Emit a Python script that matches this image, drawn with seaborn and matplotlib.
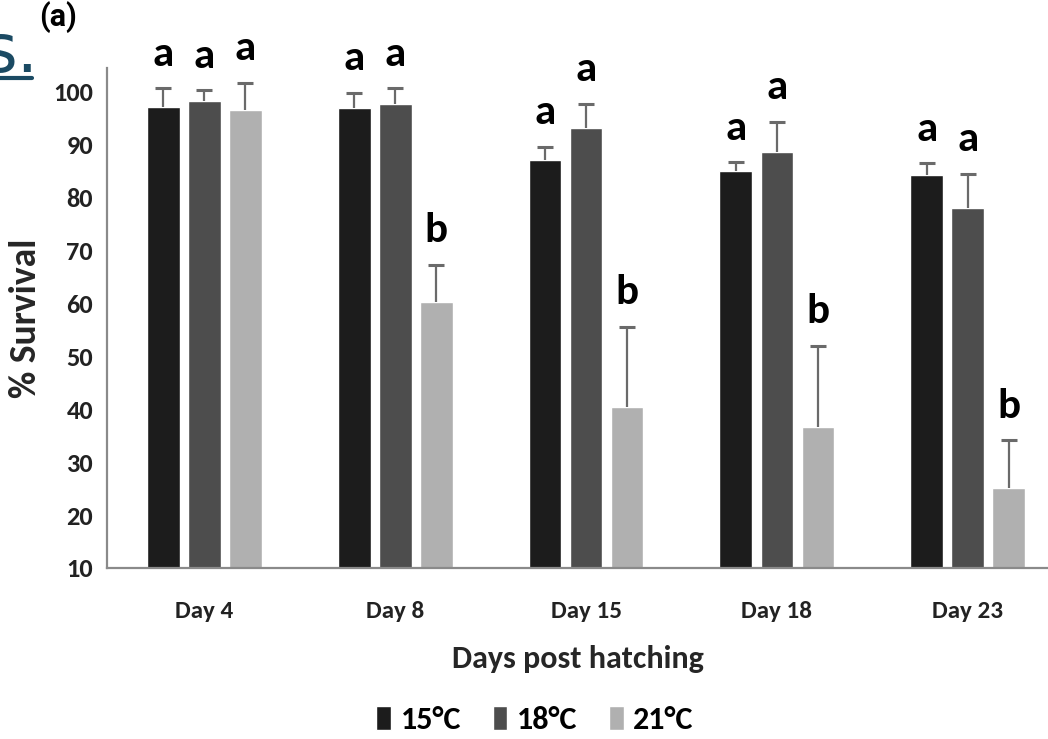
import numpy as np
import pandas as pd
import matplotlib
matplotlib.use("Agg")
import matplotlib.pyplot as plt
from matplotlib.lines import Line2D
import seaborn as sns

# Survival data
days = ["Day 4", "Day 8", "Day 15", "Day 18", "Day 23"]
temps = ["15°C", "18°C", "21°C"]
surv_15 = [97.0, 96.8, 87.1, 84.9, 84.3]
surv_18 = [98.3, 97.7, 93.2, 88.5, 78.0]
surv_21 = [96.6, 60.3, 40.5, 36.7, 25.1]
err_15 = [3.6, 3.0, 2.5, 1.7, 2.2]
err_18 = [2.0, 3.0, 4.5, 5.8, 6.5]
err_21 = [5.1, 7.0, 15.1, 15.3, 9.1]
letters_15 = ["a", "a", "a", "a", "a"]
letters_18 = ["a", "a", "a", "a", "a"]
letters_21 = ["a", "b", "b", "b", "b"]

colors = ["#1c1c1c", "#4d4d4d", "#b0b0b0"]

df = pd.DataFrame({
    "Day": days * 3,
    "Temp": [t for t in temps for _ in days],
    "Survival": surv_15 + surv_18 + surv_21,
})
errs = [err_15, err_18, err_21]
letters = [letters_15, letters_18, letters_21]

sns.set_style("white")
plt.rcParams["font.family"] = ["Carlito", "Open Sans", "DejaVu Sans"]
plt.rcParams["font.weight"] = "bold"
plt.rcParams["text.color"] = "black"

fig = plt.figure(figsize=(10.48, 7.39), dpi=100)
ax = fig.add_axes([0.102, 0.2314, 0.898, 0.677])

sns.barplot(data=df, x="Day", y="Survival", hue="Temp", order=days,
            hue_order=temps, palette=colors, width=0.645, gap=0.2,
            errorbar=None, saturation=1, ax=ax)

# upper-only error bars and significance letters
for cont, err, lets in zip(ax.containers, errs, letters):
    xs = [p.get_x() + p.get_width() / 2 for p in cont.patches]
    ys = [p.get_height() for p in cont.patches]
    _, caps, _ = ax.errorbar(xs, ys, yerr=[np.zeros(len(err)), err],
                             fmt="none", ecolor="#6a6a6a", elinewidth=1.6,
                             capsize=6, capthick=2.2)
    caps[0].set_visible(False)
    for x, y, e, l in zip(xs, ys, err, lets):
        ax.annotate(l, (x, y + e), xytext=(0, 11), textcoords="offset points",
                    ha="center", va="bottom", fontsize=31, fontweight="bold",
                    annotation_clip=False)

ax.set_ylim(10, 104.5)
ax.set_xlim(-0.51, 4.42)
ax.set_yticks(range(10, 101, 10))
ax.tick_params(axis="y", length=6, width=1.3, color="#888888",
               labelsize=19, pad=4, labelcolor="#222222")
ax.tick_params(axis="x", length=0, labelsize=18, pad=24, labelcolor="#222222")
for lab in ax.get_xticklabels() + ax.get_yticklabels():
    lab.set_fontweight("bold")
ax.set_ylabel("% Survival", fontsize=27, fontweight="bold", labelpad=8)
ax.set_xlabel("Days post hatching", fontsize=23, fontweight="bold",
              labelpad=16)
sns.despine(ax=ax)
for s in ["left", "bottom"]:
    ax.spines[s].set_color("#8a8a8a")
    ax.spines[s].set_linewidth(1.6)

sns.move_legend(ax, "upper center", bbox_to_anchor=(0.455, -0.218), ncol=3,
                title=None, frameon=False, fontsize=23, handlelength=0.45,
                handleheight=0.8, handletextpad=0.3, columnspacing=1.0)
for t in ax.get_legend().get_texts():
    t.set_fontweight("bold")

# cropped page remnants at top-left
fig.text(-0.017, 0.903, "s.", fontsize=48, color="#1b4a63",
         fontweight="normal", family="DejaVu Sans")
fig.add_artist(Line2D([0, 0.031], [0.894, 0.894], color="#1b4a63", lw=3))
fig.text(0.037, 0.998, "(a)", fontsize=22, fontweight="bold", va="top",
         family=["Roboto", "DejaVu Sans"])

fig.savefig("out.png", dpi=100)
